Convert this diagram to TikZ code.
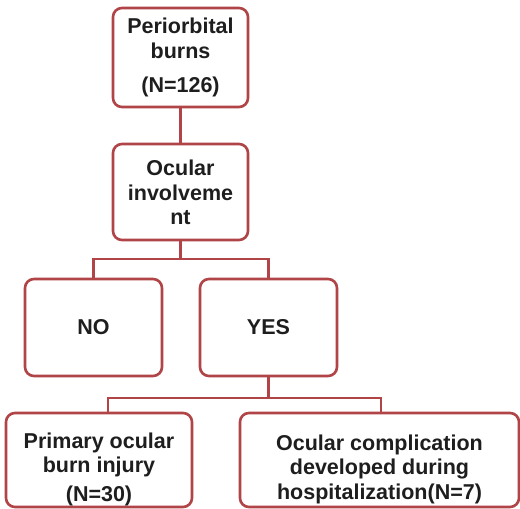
\documentclass[tikz,border=0pt]{standalone}
\usepackage{fontspec}
\setmainfont{Liberation Sans}
\definecolor{boxred}{RGB}{176,68,70}
\definecolor{txtc}{RGB}{30,30,30}
\begin{document}
\begin{tikzpicture}[x=1pt,y=-1pt,
  box/.style={draw=boxred, line width=2.6pt, rounded corners=9pt, fill=white, inner sep=0pt},
  txt/.style={text=txtc, align=center, inner sep=0pt, font=\fontsize{21.5}{24.5}\selectfont\bfseries},
  conn/.style={draw=boxred, line width=2.6pt}]
\useasboundingbox (0,0) rectangle (520,509);
% boxes
\node[box, minimum width=135pt, minimum height=99pt] (p) at (180.5,57.5) {};
\node[txt] (pt) at (180.5,57.5) {Periorbital\\burns\\[10pt](N=126)};
\node[box, minimum width=135pt, minimum height=96pt] (o) at (180.5,192) {};
\node[txt] (ot) at (180.5,192.5) {Ocular\\involveme\\nt};
\node[box, minimum width=137pt, minimum height=97pt] (no) at (93.5,327.5) {};
\node[txt] (not) at (93.5,327.5) {NO};
\node[box, minimum width=137pt, minimum height=97pt] (yes) at (268.5,327.5) {};
\node[txt] (yest) at (268.5,327.5) {YES};
\node[box, minimum width=186pt, minimum height=94pt] (b1) at (99,460) {};
\node[txt] (b1t) at (99,469) {Primary ocular\\burn injury\\[4pt](N=30)};
\node[box, minimum width=279pt, minimum height=94pt] (b2) at (379.5,460) {};
\node[txt] (b2t) at (379.5,469) {Ocular complication\\developed during\\hospitalization(N=7)};
% junction coordinates
\coordinate (j1) at (180.5,259);
\coordinate (j2) at (268.5,398);
\coordinate (c1) at (108,413);
\coordinate (c2) at (381,413);
% connectors
\draw[conn] (p.south) -- (o.north);
\draw[conn] (o.south) -- (j1);
\draw[conn] (j1) -| (no.north);
\draw[conn] (j1) -| (yes.north);
\draw[conn] (yes.south) -- (j2);
\draw[conn] (j2) -| (c1);
\draw[conn] (j2) -| (c2);
\end{tikzpicture}
\end{document}
